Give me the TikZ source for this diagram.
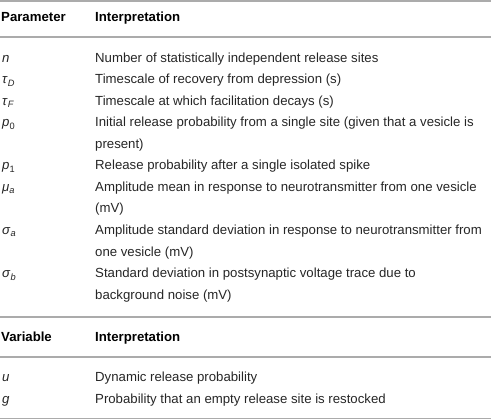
\documentclass[tikz,border=0pt]{standalone}
\usepackage{fontspec}
\setmainfont{Liberation Sans}
\usepackage{tikz}
\usetikzlibrary{calc}

\newcommand{\sy}[2]{\textit{#1}\textsubscript{#2}}

\begin{document}
\begin{tikzpicture}[x=1pt,y=-1pt,
    cell/.style={anchor=base west,inner sep=0pt,font=\fontsize{13.2}{15}\selectfont,text=black!85},
    head/.style={cell,font=\fontsize{13.2}{15}\selectfont\bfseries,text=black},
    rule/.style={draw=black!33,line width=1.1pt}]
        \useasboundingbox (0,0) rectangle (491,420);
        % rules of the table
        \draw[rule,line width=2pt] (0,1) -- (491,1);
        \foreach \y in {37,317,357}
        \draw[rule] (0,\y) -- (491,\y);
        \draw[rule,line width=1.6pt] (0,418.5) -- (491,418.5);
        % headings
        \node[head] (hp) at (1,21.5) {Parameter};
        \node[head] (hi) at (95,21.5) {Interpretation};
        \node[head] (hv) at (1,341.5) {Variable};
        \node[head] (hw) at (95,341.5) {Interpretation};
        % parameters
        \foreach \y/\sym/\txt [count=\i] in {
            62.5/{\textit{n}}/{Number of statistically independent release sites},
            84/{\sy{τ}{\textit{D}}}/{Timescale of recovery from depression (s)},
            105.5/{\sy{τ}{\textit{F}}}/{Timescale at which facilitation decays (s)},
            127/{\sy{p}{0}}/{Initial release probability from a single site (given that a vesicle is},
            148.5/{}/{present)},
            170/{\sy{p}{1}}/{Release probability after a single isolated spike},
            191.5/{\sy{μ}{\textit{a}}}/{Amplitude mean in response to neurotransmitter from one vesicle},
            213/{}/{(mV)},
            234.5/{\sy{σ}{\textit{a}}}/{Amplitude standard deviation in response to neurotransmitter from},
            256/{}/{one vesicle (mV)},
            277.5/{\sy{σ}{\textit{b}}}/{Standard deviation in postsynaptic voltage trace due to},
            299/{}/{background noise (mV)},
            381.5/{\textit{u}}/{Dynamic release probability},
            403/{\textit{g}}/{Probability that an empty release site is restocked}}
        {
            \node[cell] (s\i) at (2,\y) {\sym};
            \node[cell] (t\i) at (95,\y) {\txt};
        }
    \end{tikzpicture}
\end{document}
